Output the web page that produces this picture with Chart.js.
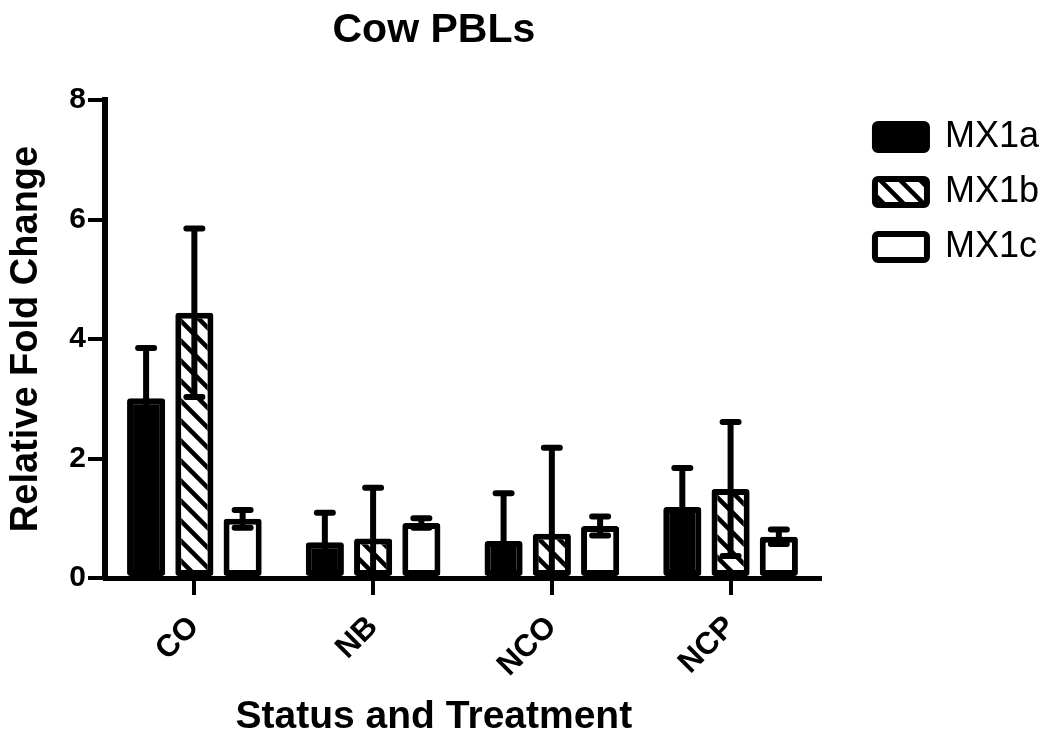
<!DOCTYPE html>
<html>
<head>
<meta charset="utf-8">
<script src="https://cdn.jsdelivr.net/npm/chart.js@4"></script>
<style>
  html, body { margin: 0; padding: 0; background: #ffffff; }
  canvas { display: block; }
</style>
</head>
<body>
<canvas id="chart" width="1062" height="736"></canvas>
<script>
// Relative fold change of MX1 transcripts in cow PBLs (mean ± SEM)
const categories = ['CO', 'NB', 'NCO', 'NCP'];
const seriesNames = ['MX1a', 'MX1b', 'MX1c'];
const mx1a = [3.01, 0.60, 0.62, 1.19];
const mx1aSem = [0.84, 0.49, 0.80, 0.65];
const mx1b = [4.44, 0.66, 0.74, 1.49];
const mx1bSem = [1.41, 0.85, 1.44, 1.12];
const mx1c = [0.99, 0.92, 0.87, 0.69];
const mx1cSem = [0.15, 0.08, 0.16, 0.12];
const yTicks = [0, 2, 4, 6, 8];

const chartTitle = 'Cow PBLs';
const xTitle = 'Status and Treatment';
const yTitle = 'Relative Fold Change';

const FONT = "'Liberation Sans', Arial, Helvetica, sans-serif";
Chart.defaults.font.family = FONT;
Chart.defaults.color = '#000000';

// diagonal hatch fill ("\" direction)
function makeHatch() {
  const s = 20;
  const tile = document.createElement('canvas');
  tile.width = s; tile.height = s;
  const g = tile.getContext('2d');
  g.fillStyle = '#ffffff';
  g.fillRect(0, 0, s, s);
  g.strokeStyle = '#000000';
  g.lineWidth = 4.5;
  g.beginPath();
  for (let k = -1; k <= 1; k++) {
    g.moveTo(-2, k * s - 2);
    g.lineTo(s + 2, k * s + s + 2);
  }
  g.stroke();
  return g.createPattern(tile, 'repeat');
}

const ctx = document.getElementById('chart').getContext('2d');
const hatch = makeHatch();

const semBySeries = [mx1aSem, mx1bSem, mx1cSem];

// error bars: vertical whisker with caps, clipped at zero
const errorBars = {
  id: 'errorBars',
  afterDatasetsDraw(chart) {
    const c = chart.ctx;
    const yScale = chart.scales.y;
    c.save();
    c.strokeStyle = '#000000';
    c.lineWidth = 6;
    c.lineCap = 'round';
    chart.data.datasets.forEach((ds, i) => {
      const meta = chart.getDatasetMeta(i);
      const sem = semBySeries[i];
      meta.data.forEach((bar, j) => {
        const v = ds.data[j];
        const hi = v + sem[j];
        const lo = v - sem[j];
        const x = bar.x;
        const yHi = yScale.getPixelForValue(hi);
        const yLo = yScale.getPixelForValue(Math.max(lo, 0));
        const half = 8;
        c.beginPath();
        c.moveTo(x, yHi);
        c.lineTo(x, yLo);
        c.moveTo(x - half, yHi);
        c.lineTo(x + half, yHi);
        if (lo > 0) {
          c.moveTo(x - half, yLo);
          c.lineTo(x + half, yLo);
        }
        c.stroke();
      });
    });
    c.restore();
  }
};

// chart title and x-axis caption
const captions = {
  id: 'captions',
  afterDraw(chart) {
    const c = chart.ctx;
    const a = chart.chartArea;
    const cx = a.left + (a.right - a.left) * 0.46;
    c.save();
    c.fillStyle = '#000000';
    c.textAlign = 'center';
    c.textBaseline = 'alphabetic';
    c.font = 'bold 41px ' + FONT;
    c.fillText(chartTitle, cx, 42);
    c.font = 'bold 39px ' + FONT;
    c.fillText(xTitle, cx, 728);
    c.restore();
  }
};

const barStyle = {
  borderColor: '#000000',
  borderWidth: 6,
  borderRadius: 3,
  borderSkipped: false,
  categoryPercentage: 0.81,
  barPercentage: 0.79
};

new Chart(ctx, {
  type: 'bar',
  data: {
    labels: categories,
    datasets: [
      Object.assign({ label: seriesNames[0], data: mx1a, backgroundColor: '#000000' }, barStyle),
      Object.assign({ label: seriesNames[1], data: mx1b, backgroundColor: hatch }, barStyle),
      Object.assign({ label: seriesNames[2], data: mx1c, backgroundColor: '#ffffff' }, barStyle)
    ]
  },
  options: {
    responsive: false,
    animation: false,
    devicePixelRatio: 1,
    layout: { padding: { top: 100, right: 13, bottom: 0, left: 0 } },
    plugins: {
      title: { display: false },
      tooltip: { enabled: false },
      legend: {
        position: 'right',
        align: 'start',
        labels: {
          boxWidth: 52,
          boxHeight: 26,
          padding: 19,
          useBorderRadius: true,
          borderRadius: 3,
          color: '#000000',
          font: { size: 36, weight: 'normal' }
        }
      }
    },
    scales: {
      x: {
        type: 'category',
        afterFit(scale) { scale.height = 158; },
        grid: {
          offset: false,
          drawOnChartArea: false,
          drawTicks: true,
          tickLength: 17,
          tickWidth: 4,
          lineWidth: 4,
          color: '#000000'
        },
        border: { display: true, color: '#000000', width: 5 },
        ticks: {
          autoSkip: false,
          minRotation: 45,
          maxRotation: 45,
          padding: 14,
          color: '#000000',
          font: { size: 31, weight: 'bold' }
        }
      },
      y: {
        min: 0,
        max: 8,
        afterFit(scale) { scale.width = 105; },
        afterBuildTicks(scale) { scale.ticks = yTicks.map(v => ({ value: v })); },
        grid: {
          drawOnChartArea: false,
          drawTicks: true,
          tickLength: 17,
          tickWidth: 4,
          lineWidth: 4,
          color: '#000000'
        },
        border: { display: true, color: '#000000', width: 6 },
        ticks: {
          padding: 2,
          color: '#000000',
          font: { size: 30, weight: 'bold' }
        },
        title: {
          display: true,
          text: yTitle,
          color: '#000000',
          padding: { top: 4, bottom: 4 },
          font: { size: 38, weight: 'bold' }
        }
      },
      // hidden spacer between the plot and the legend
      gap: {
        position: 'right',
        display: false,
        afterFit(scale) { scale.width = 36; }
      }
    }
  },
  plugins: [errorBars, captions]
});
</script>
</body>
</html>
